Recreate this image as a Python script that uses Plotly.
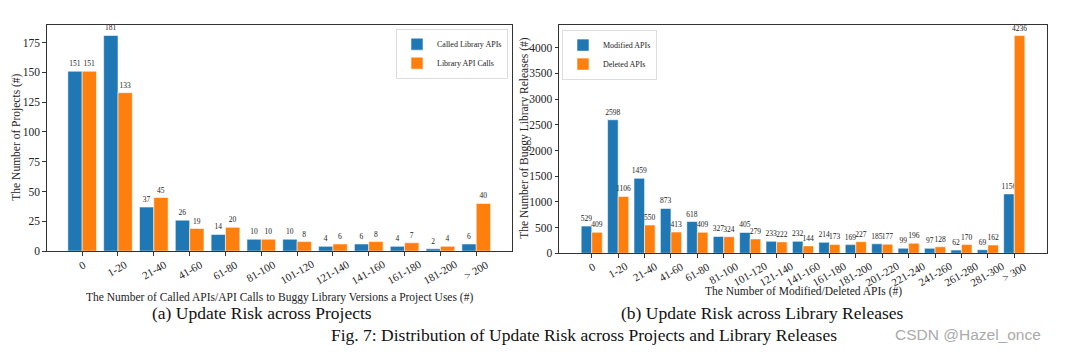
import plotly.graph_objects as go

# ---------------- data ----------------
cats_a = ["0", "1-20", "21-40", "41-60", "61-80", "81-100", "101-120",
          "121-140", "141-160", "161-180", "181-200", "> 200"]
called_apis = [151, 181, 37, 26, 14, 10, 10, 4, 6, 4, 2, 6]
api_calls = [151, 133, 45, 19, 20, 10, 8, 6, 8, 7, 4, 40]

cats_b = ["0", "1-20", "21-40", "41-60", "61-80", "81-100", "101-120",
          "121-140", "141-160", "161-180", "181-200", "201-220", "221-240",
          "241-260", "261-280", "281-300", "> 300"]
modified_apis = [529, 2598, 1459, 873, 618, 327, 405, 233, 232, 214, 169,
                 185, 99, 97, 62, 69, 1156]
deleted_apis = [409, 1106, 550, 413, 409, 324, 279, 222, 144, 173, 227,
                177, 196, 128, 170, 162, 4236]

BLUE = "#1f77b4"
ORANGE = "#ff7f0e"
SERIF = "Liberation Serif, Times New Roman, serif"
OFF = 8                      # default page body margin (on every side)
W, H = 1075 - 2 * OFF, 356 - 2 * OFF

def px_x(p):
    return (p - OFF) / W

def px_y(p):
    return 1 - (p - OFF) / H

fig = go.Figure()

def add_bars(x, y, name, color, xa, ya, legend):
    fig.add_trace(go.Bar(
        x=x, y=y, name=name, xaxis=xa, yaxis=ya, legend=legend,
        marker=dict(color=color, line=dict(color="rgba(255,255,255,0.55)", width=1)),
        text=[str(v) for v in y], textposition="outside",
        textfont=dict(family=SERIF, size=7.5, color="#222"),
        constraintext="none", cliponaxis=False,
        offsetgroup=name,
    ))

add_bars(cats_a, called_apis, "Called Library APIs", BLUE, "x", "y", "legend")
add_bars(cats_a, api_calls, "Library API Calls", ORANGE, "x", "y", "legend")
add_bars(cats_b, modified_apis, "Modified APIs", BLUE, "x2", "y2", "legend2")
add_bars(cats_b, deleted_apis, "Deleted APIs", ORANGE, "x2", "y2", "legend2")

axis_common = dict(showline=True, linecolor="#333", linewidth=1, mirror=True,
                   ticks="outside", ticklen=3.5, tickcolor="#333",
                   showgrid=False, zeroline=False)

fig.update_layout(
    width=W, height=H,
    margin=dict(l=0, r=0, t=0, b=0),
    paper_bgcolor="white", plot_bgcolor="white",
    barmode="group", bargap=0.2, bargroupgap=0,
    font=dict(family=SERIF, color="#222"),
    xaxis=dict(domain=[px_x(46.7), px_x(511.7)], anchor="y", type="category",
               range=[-0.99, len(cats_a) - 1 + 0.99], showticklabels=False,
               **axis_common),
    yaxis=dict(domain=[px_y(255.5), px_y(25)], anchor="x",
               range=[0, max(called_apis) * 1.05],
               dtick=25, tickfont=dict(family=SERIF, size=11.5), **axis_common),
    xaxis2=dict(domain=[px_x(559), px_x(1047)], anchor="y2", type="category",
                range=[-1.24, len(cats_b) - 1 + 1.24], showticklabels=False,
                **axis_common),
    yaxis2=dict(domain=[px_y(257.7), px_y(25)], anchor="x2",
                range=[0, max(deleted_apis) * 1.05],
                dtick=500, tickfont=dict(family=SERIF, size=11.5), **axis_common),
    legend=dict(x=px_x(508), y=px_y(29), xanchor="right", yanchor="top",
                bgcolor="white", bordercolor="#ddd", borderwidth=1,
                font=dict(family=SERIF, size=8), tracegroupgap=0),
    legend2=dict(x=px_x(562), y=px_y(30), xanchor="left", yanchor="top",
                 bgcolor="white", bordercolor="#ddd", borderwidth=1,
                 font=dict(family=SERIF, size=8), tracegroupgap=0),
)

annotations = []
# rotated category labels, centred under their ticks
for cats, xr, yr in [(cats_a, "x", "y"), (cats_b, "x2", "y2")]:
    for c in cats:
        annotations.append(dict(
            x=c, y=0, xref=xr, yref=yr, text=c, showarrow=False,
            textangle=-30, xanchor="center", yanchor="top", yshift=-4,
            font=dict(family=SERIF, size=11, color="#222")))

def label(x, y, text, size, angle=0, family=SERIF, color="#222"):
    return dict(x=px_x(x), y=px_y(y), xref="paper", yref="paper",
                xanchor="center", yanchor="middle", text=text, textangle=angle,
                showarrow=False, font=dict(family=family, size=size, color=color))

annotations += [
    label(279, 303, "The Number of Called APIs/API Calls to Buggy Library Versions a Project Uses (#)", 11.5),
    label(803, 297, "The Number of Modified/Deleted APIs (#)", 11.5),
    label(17, 140, "The Number of Projects (#)", 11.5, -90),
    label(525, 141, "The Number of Buggy Library Releases (#)", 11.5, -90),
    label(262, 318, "(a) Update Risk across Projects", 17.5, color="#111"),
    label(762, 318, "(b) Update Risk across Library Releases", 17.5, color="#111"),
    label(584, 340.5, "Fig. 7: Distribution of Update Risk across Projects and Library Releases", 17.5, color="#111"),
    label(968, 340.5, "CSDN @Hazel_once", 15.5, family="Liberation Sans, Arial, sans-serif", color="#aaa"),
]
fig.update_layout(annotations=annotations)

fig.write_html("out.html")
